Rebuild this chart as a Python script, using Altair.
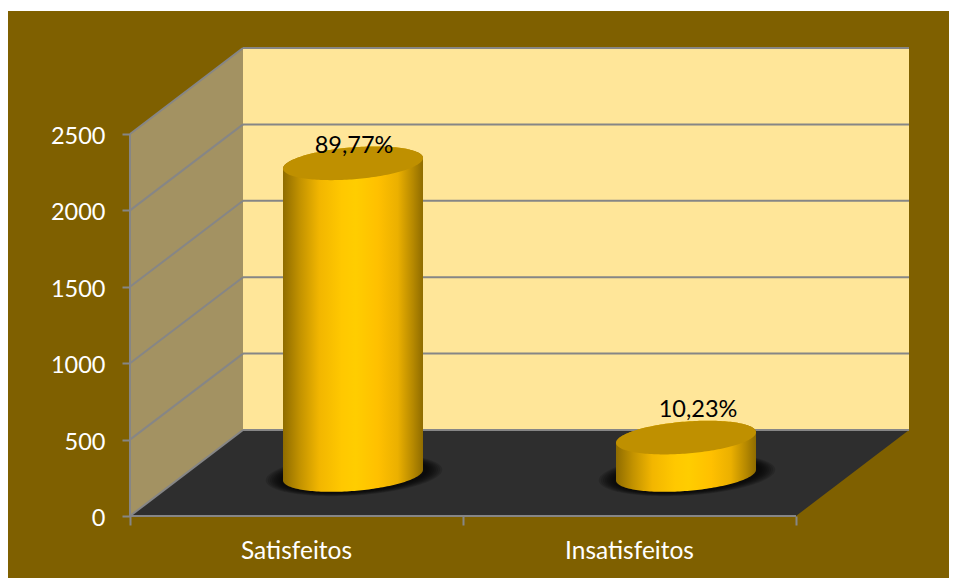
import numpy as np
import pandas as pd
import altair as alt

categories = ["Satisfeitos", "Insatisfeitos"]
values = [2040, 245]
percent_labels = ["89,77%", "10,23%"]
ticks_y = [0, 500, 1000, 1500, 2000, 2500]

# projection of the 3-D box, in page pixels / value units
PX = 382 / 2500
X0, X1, XM = 130, 796, 463
DX = 113
DEPTH = 86 / PX
BASE = 41 / PX
CX = [353, 686]
RX = 70
TILT = 5.3 / PX
RY = 16 / PX
LABEL_DX = [1, 12]
LABEL_DY = [-10, -21]

BROWN = "#7F6000"
GRID = "#868686"
FONT = "Lato"

xs = alt.Scale(domain=[8, 949], range=[0, 941], nice=False, zero=False)
ys = alt.Scale(domain=[-(578 - 516) / PX, (516 - 11) / PX], range=[567, 0], nice=False, zero=False)
X = lambda f="x", **k: alt.X(f"{f}:Q", scale=xs, axis=None, **k)
Y = lambda f="y", **k: alt.Y(f"{f}:Q", scale=ys, axis=None, **k)
X2 = alt.X2("x2:Q")
Y2 = alt.Y2("y2:Q")


def grad(stops):
    return alt.Gradient(gradient="linear", x1=0, x2=1, y1=0, y2=0,
                        stops=[alt.GradientStop(offset=o, color=c) for o, c in stops])


def ellipse(cx, cy, rx=RX, ry=RY, tilt=TILT, n=90):
    t = np.linspace(np.pi, 0, n)
    u = np.cos(t)
    x = cx + rx * u
    mid = cy + tilt * u
    h = ry * np.sin(t)
    return x, mid + h, mid - h   # x, upper on screen, lower on screen


# walls and floor
left_wall = pd.DataFrame({"x": [X0, X0 + DX], "y": [0, DEPTH], "y2": [2500, 2500 + DEPTH]})
back_wall = pd.DataFrame({"x": [X0 + DX, X1 + DX], "y": [DEPTH, DEPTH], "y2": [2500 + DEPTH] * 2})
floor = pd.DataFrame({"x": [X0, X0 + DX, X1, X1 + DX], "y": [0, 0, 0, DEPTH], "y2": [0, DEPTH, DEPTH, DEPTH]})

wall_l = alt.Chart(left_wall).mark_area(color="#A39262", orient="vertical").encode(x=X(), y=Y(), y2=Y2)
wall_b = alt.Chart(back_wall).mark_area(color="#FFE699", orient="vertical").encode(x=X(), y=Y(), y2=Y2)
floor_m = alt.Chart(floor).mark_area(color="#2E2E2E", orient="vertical").encode(x=X(), y=Y(), y2=Y2)

# gridlines
grid_rows = []
for v in ticks_y:
    grid_rows.append({"x": X0, "x2": X0 + DX, "y": v, "y2": v + DEPTH})
    grid_rows.append({"x": X0 + DX, "x2": X1 + DX, "y": v + DEPTH, "y2": v + DEPTH})
grid_rows.append({"x": X0, "x2": X0, "y": 0, "y2": 2500})
grid_rows.append({"x": X0, "x2": X1, "y": 0, "y2": 0})
grid_m = alt.Chart(pd.DataFrame(grid_rows)).mark_rule(color=GRID, strokeWidth=2).encode(
    x=X(), x2=X2, y=Y(), y2=Y2)

# axes (ticks and value labels)
axis_y = alt.Chart(pd.DataFrame({"x": [X0], "y": [0]})).mark_point(opacity=0).encode(
    x=alt.X("x:Q", scale=xs, axis=alt.Axis(
        values=[X0, XM, X1], labels=False, title=None, domain=False, grid=False,
        tickColor=GRID, tickWidth=2, tickSize=9, offset=-62)),
    y=alt.Y("y:Q", scale=ys, axis=alt.Axis(
        values=ticks_y, title=None, domain=False, grid=False, tickColor=GRID, tickWidth=2, tickSize=8,
        labelColor="white", labelFont=FONT, labelFontSize=23.5, labelPadding=17, labelOffset=2.5,
        offset=-122, format="d")),
)

layers = [axis_y, wall_l, wall_b, floor_m, grid_m]

# cylinder shadows
for cx in CX:
    rows = []
    for i, grow in enumerate([1.26, 1.23, 1.20, 1.17, 1.14, 1.11, 1.08, 1.05]):
        ex, ey, ey2 = ellipse(cx + 1, BASE, rx=RX * grow, ry=RY * (grow + .02), tilt=TILT)
        rows.append(pd.DataFrame({"x": ex, "y": ey, "y2": ey2, "g": i}))
    layers.append(alt.Chart(pd.concat(rows)).mark_area(color="black", opacity=0.15, orient="vertical").encode(
        x=X(), y=Y(), y2=Y2, detail="g:N"))

# cylinder bodies and caps
body_grad = grad([(0, "#8F6C00"), (0.12, "#C29200"), (0.26, "#F2B600"), (0.42, "#FFC800"),
                  (0.52, "#FFCD00"), (0.68, "#FFC000"), (0.82, "#EBB000"), (0.93, "#B58800"), (1, "#8F6C00")])
for cat, val, cx, txt, ldx, ldy in zip(categories, values, CX, percent_labels, LABEL_DX, LABEL_DY):
    bx, _, b_lo = ellipse(cx, BASE)
    _, t_hi, _ = ellipse(cx, BASE + val)
    layers.append(alt.Chart(pd.DataFrame({"x": bx, "y": b_lo, "y2": t_hi})).mark_area(
        color=body_grad, orient="vertical").encode(x=X(), y=Y(), y2=Y2))
    tx, t_up, t_lo = ellipse(cx, BASE + val)
    layers.append(alt.Chart(pd.DataFrame({"x": tx, "y": t_lo, "y2": t_up})).mark_area(
        color="#BF9000", orient="vertical").encode(x=X(), y=Y(), y2=Y2))
    layers.append(alt.Chart(pd.DataFrame({"x": [cx + ldx], "y": [BASE + val], "t": [txt]})).mark_text(
        font=FONT, fontSize=23.5, color="black", baseline="alphabetic", dy=ldy).encode(x=X(), y=Y(), text="t:N"))

# category labels
cat_df = pd.DataFrame({"x": [X0 + (XM - X0) / 2, XM + (X1 - XM) / 2], "y": [0, 0], "t": categories})
layers.append(alt.Chart(cat_df).mark_text(font=FONT, fontSize=24.5, color="white", baseline="alphabetic", dy=43).encode(
    x=X(), y=Y(), text="t:N"))

chart = alt.layer(*layers).resolve_axis(x="independent", y="independent").properties(
    width=941, height=567, background="white",
    padding={"left": 0, "right": 0, "top": 3, "bottom": 0},
    autosize=alt.AutoSizeParams(type="none"),
).configure_view(fill=BROWN, stroke=None)

chart.save("out.html", embed_options={"renderer": "svg", "actions": False})
